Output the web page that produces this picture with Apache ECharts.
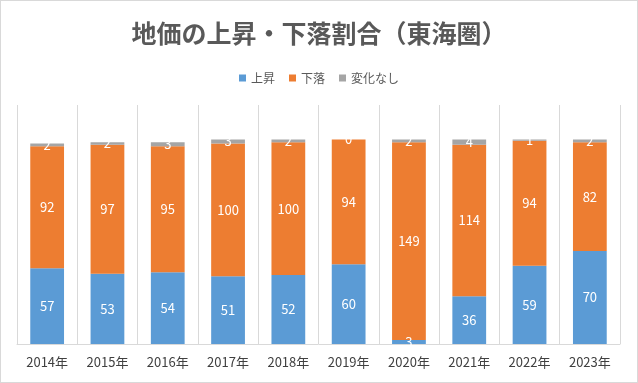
<!DOCTYPE html>
<html><head><meta charset="utf-8">
<script src="https://cdn.jsdelivr.net/npm/echarts@6/dist/echarts.min.js"></script>
<style>
html,body{margin:0;padding:0;background:#fff;}
#c{width:638px;height:383px;box-sizing:border-box;border:1px solid #d9d9d9;}
</style></head>
<body><div id="c"></div>
<script>
const categories = ['2014年','2015年','2016年','2017年','2018年','2019年','2020年','2021年','2022年','2023年'];
const rise = [57,53,54,51,52,60,3,36,59,70];
const fall = [92,97,95,100,100,94,149,114,94,82];
const flat = [2,2,3,3,2,0,2,4,1,2];
const seriesNames = ['上昇','下落','変化なし'];
const colors = ['#5B9BD5','#ED7D31','#A5A5A5'];

const font = '"Noto Sans CJK JP","Noto Sans",sans-serif';
const chart = echarts.init(document.getElementById('c'));
const mk = (name, data, color) => ({
  name, type:'bar', stack:'t', data, barWidth:'56%',
  itemStyle:{color},
  label:{show:true, position:'inside', color:'#fff', fontSize:13, fontFamily:font}
});
chart.setOption({
  animation:false,
  color:colors,
  title:{text:'地価の上昇・下落割合（東海圏）', left:'center', top:15,
    textStyle:{fontSize:25, fontWeight:'bold', color:'#595959', fontFamily:font}},
  legend:{top:66, left:'center', itemWidth:7, itemHeight:7, itemGap:14, icon:'rect',
    textStyle:{fontSize:12, color:'#595959', fontFamily:font}, data:seriesNames},
  grid:{left:16, right:17, top:104, bottom:38},
  xAxis:{type:'category', data:categories,
    axisLine:{lineStyle:{color:'#d9d9d9'}}, axisTick:{show:false},
    splitLine:{show:true, lineStyle:{color:'#d9d9d9'}},
    axisLabel:{color:'#404040', fontSize:13, margin:12, fontFamily:font}},
  yAxis:{type:'value', min:0, max:180, show:false, splitLine:{show:false}},
  series:[mk(seriesNames[0], rise, colors[0]), mk(seriesNames[1], fall, colors[1]), mk(seriesNames[2], flat, colors[2])]
});
</script></body></html>
